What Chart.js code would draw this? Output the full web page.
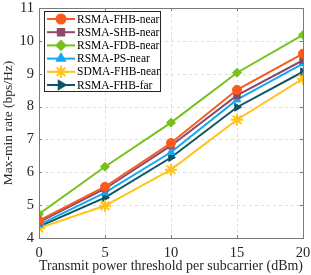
<!DOCTYPE html>
<html>
<head>
<meta charset="utf-8">
<script src="https://cdn.jsdelivr.net/npm/chart.js@4"></script>
<style>
  html, body { margin: 0; padding: 0; background: #fff; }
  #wrap { width: 311px; height: 275px; }
</style>
</head>
<body>
<div id="wrap"><canvas id="c" width="311" height="275"></canvas></div>
<script>
// ===== DATA =====
const powers = [0, 5, 10, 15, 20];
const fhbNear = [4.53, 5.56, 6.89, 8.51, 9.61];
const shbNear = [4.48, 5.50, 6.81, 8.34, 9.41];
const fdbNear = [4.73, 6.17, 7.51, 9.03, 10.18];
const psNear  = [4.40, 5.38, 6.61, 8.21, 9.31];
const sdmaNear = [4.30, 4.98, 6.08, 7.60, 8.85];
const fhbFar  = [4.35, 5.23, 6.45, 7.98, 9.06];
const yTicks = [4, 5, 6, 7, 8, 9, 10, 11];

const serif = '"Liberation Serif", "DejaVu Serif", serif';

function mkSet(label, data, color, style, rot) {
    return {
        label: label,
        data: data.map((v, i) => ({ x: powers[i], y: v })),
        borderColor: color,
        backgroundColor: color,
        borderWidth: 2,
        pointStyle: style,
        pointRotation: rot || 0,
        pointRadius: style === 'star' ? 6 : 4.5,
        pointBorderWidth: style === 'star' ? 2 : 1,
        tension: 0
    };
}

// ===== GRID PUTUS-PUTUS =====
const dashGrid = {
    id: 'dashGrid',
    beforeDatasetsDraw(chart) {
        const a = chart.chartArea, ctx = chart.ctx;
        const sx = chart.scales.x, sy = chart.scales.y;
        ctx.save();
        ctx.strokeStyle = '#dedede';
        ctx.lineWidth = 1;
        ctx.setLineDash([3, 3]);
        powers.forEach(v => {
            const px = Math.round(sx.getPixelForValue(v)) + 0.5;
            ctx.beginPath(); ctx.moveTo(px, a.top); ctx.lineTo(px, a.bottom); ctx.stroke();
        });
        yTicks.forEach(v => {
            const py = Math.round(sy.getPixelForValue(v)) + 0.5;
            ctx.beginPath(); ctx.moveTo(a.left, py); ctx.lineTo(a.right, py); ctx.stroke();
        });
        ctx.restore();
    }
};

// ===== BINGKAI + TICK KE DALAM =====
const boxFrame = {
    id: 'boxFrame',
    afterDatasetsDraw(chart) {
        const a = chart.chartArea, ctx = chart.ctx;
        const sx = chart.scales.x, sy = chart.scales.y;
        ctx.save();
        ctx.strokeStyle = '#7a7a7a';
        ctx.lineWidth = 1;
        ctx.strokeRect(Math.round(a.left) + 0.5, Math.round(a.top) + 0.5,
                       Math.round(a.right - a.left), Math.round(a.bottom - a.top));
        ctx.beginPath();
        powers.forEach(v => {
            const px = Math.round(sx.getPixelForValue(v)) + 0.5;
            ctx.moveTo(px, a.bottom); ctx.lineTo(px, a.bottom - 3);
            ctx.moveTo(px, a.top); ctx.lineTo(px, a.top + 3);
        });
        yTicks.forEach(v => {
            const py = Math.round(sy.getPixelForValue(v)) + 0.5;
            ctx.moveTo(a.left, py); ctx.lineTo(a.left + 3, py);
            ctx.moveTo(a.right, py); ctx.lineTo(a.right - 3, py);
        });
        ctx.stroke();
        ctx.restore();
    }
};

// ===== LEGEND DI DALAM PLOT =====
const innerLegend = {
    id: 'innerLegend',
    afterDraw(chart) {
        const ctx = chart.ctx;
        const x0 = 44, y0 = 11, w = 116, h = 80;
        ctx.save();
        ctx.fillStyle = '#fff';
        ctx.fillRect(x0, y0, w, h);
        ctx.strokeStyle = '#262626';
        ctx.lineWidth = 1;
        ctx.strokeRect(x0 + 0.5, y0 + 0.5, w, h);
        ctx.font = '11.5px ' + serif;
        ctx.textBaseline = 'middle';
        chart.data.datasets.forEach((ds, i) => {
            const yy = y0 + 8 + i * 13.2;
            ctx.strokeStyle = ds.borderColor;
            ctx.lineWidth = 2;
            ctx.beginPath();
            ctx.moveTo(x0 + 3, yy);
            ctx.lineTo(x0 + 31, yy);
            ctx.stroke();
            ctx.fillStyle = ds.backgroundColor;
            Chart.helpers.drawPoint(ctx, {
                pointStyle: ds.pointStyle,
                rotation: ds.pointRotation,
                radius: ds.pointRadius,
                borderWidth: ds.pointBorderWidth
            }, x0 + 17, yy);
            ctx.fillStyle = '#000';
            ctx.fillText(ds.label, x0 + 33, yy + 0.5);
        });
        ctx.restore();
    }
};

new Chart(document.getElementById('c'), {
    type: 'line',
    data: {
        datasets: [
            mkSet('RSMA-FHB-near', fhbNear, '#fa5a1c', 'circle'),
            mkSet('RSMA-SHB-near', shbNear, '#8a4a68', 'rect'),
            mkSet('RSMA-FDB-near', fdbNear, '#78c01c', 'rectRot'),
            mkSet('RSMA-PS-near', psNear, '#14a8f0', 'triangle'),
            mkSet('SDMA-FHB-near', sdmaNear, '#ffc31a', 'star'),
            mkSet('RSMA-FHB-far', fhbFar, '#0e5566', 'triangle', 90)
        ]
    },
    options: {
        responsive: false,
        animation: false,
        layout: { padding: { top: 8, right: 8, left: 0, bottom: 0 } },
        plugins: { legend: { display: false }, tooltip: { enabled: false } },
        scales: {
            x: {
                type: 'linear',
                min: 0, max: 20,
                afterBuildTicks: s => { s.ticks = powers.map(v => ({ value: v })); },
                afterFit: s => { s.height = 37; s.paddingLeft = 0; s.paddingRight = 0; },
                grid: { display: false, drawTicks: false },
                border: { display: false },
                ticks: { color: '#262626', font: { family: serif, size: 14.5 }, padding: 6, maxRotation: 0 },
                title: {
                    display: true,
                    text: 'Transmit power threshold per subcarrier (dBm)',
                    color: '#262626',
                    font: { family: serif, size: 15 },
                    padding: { top: 0, bottom: 0 }
                }
            },
            y: {
                min: 4, max: 11,
                afterBuildTicks: s => { s.ticks = yTicks.map(v => ({ value: v })); },
                afterFit: s => { s.width = 39; s.paddingTop = 0; s.paddingBottom = 0; },
                grid: { display: false, drawTicks: false },
                border: { display: false },
                ticks: { color: '#262626', font: { family: serif, size: 14.5 }, padding: 5 },
                title: {
                    display: true,
                    text: 'Max-min rate (bps/Hz)',
                    color: '#262626',
                    font: { family: serif, size: 13.5 },
                    padding: { top: 0, bottom: 1 }
                }
            }
        }
    },
    plugins: [dashGrid, boxFrame, innerLegend]
});
</script>
</body>
</html>
